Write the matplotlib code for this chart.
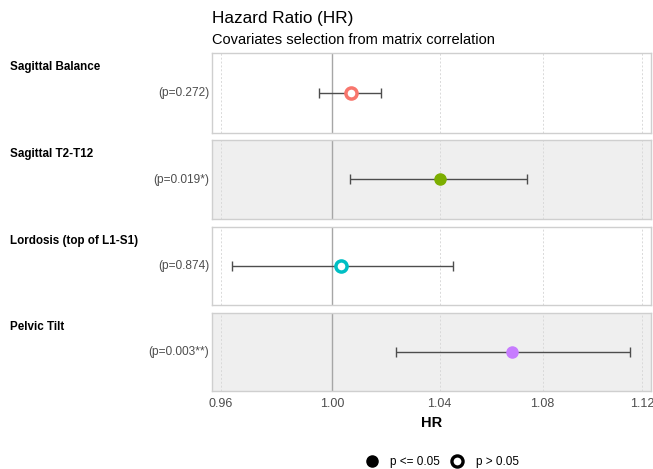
import matplotlib
matplotlib.use("Agg")
import matplotlib.pyplot as plt
from matplotlib.ticker import FixedLocator, FixedFormatter, NullLocator
from matplotlib.lines import Line2D

plt.rcParams['font.family'] = ['Liberation Sans', 'DejaVu Sans']

variables = ["Sagittal Balance", "Sagittal T2-T12", "Lordosis (top of L1-S1)", "Pelvic Tilt"]
hr = [1.007, 1.040, 1.003, 1.068]
ci_low = [0.995, 1.0066, 0.964, 1.0236]
ci_high = [1.018, 1.074, 1.045, 1.115]
p_labels = ["(p=0.272)", "(p=0.019*)", "(p=0.874)", "(p=0.003**)"]
significant = [False, True, False, True]
colors = ["#F8766D", "#7CAE00", "#00BFC4", "#C77CFF"]
x_ticks = [0.96, 1.00, 1.04, 1.08, 1.12]
x_tick_labels = ["0.96", "1.00", "1.04", "1.08", "1.12"]

W, H = 653, 469
fig = plt.figure(figsize=(W / 100, H / 100), dpi=100)

panels_px = [(53, 133), (140, 219), (227, 305), (313, 391)]
left_px, right_px = 212, 651
xlim = (0.9569, 1.1237)

for i, (top, bot) in enumerate(panels_px):
    ax = fig.add_axes([left_px / W, 1 - bot / H, (right_px - left_px) / W, (bot - top) / H])
    ax.set_xscale('log')
    ax.set_xlim(*xlim)
    ax.set_ylim(-1, 1)
    ax.set_facecolor('#EFEFEF' if i % 2 == 1 else 'white')
    for s in ax.spines.values():
        s.set_color('#CFCFCF')
        s.set_linewidth(1.0)
    for t in x_ticks:
        if t != 1.00:
            ax.axvline(t, color='#D9D9D9', lw=0.7, ls=(0, (2, 2)), zorder=1)
    ax.axvline(1.0, color='#A6A6A6', lw=1.0, zorder=2)
    ax.errorbar([hr[i]], [0], xerr=[[hr[i] - ci_low[i]], [ci_high[i] - hr[i]]],
                fmt='none', ecolor='#4D4D4D', elinewidth=1.0, capsize=3.5, capthick=1.0, zorder=3)
    if significant[i]:
        ax.plot([hr[i]], [0], 'o', ms=8, color=colors[i], mec=colors[i], zorder=4)
    else:
        ax.plot([hr[i]], [0], 'o', ms=8, mfc='white', mec=colors[i], mew=2.5, zorder=4)
    ax.yaxis.set_major_locator(NullLocator())
    ax.xaxis.set_major_locator(FixedLocator(x_ticks))
    ax.xaxis.set_minor_locator(NullLocator())
    if i == len(panels_px) - 1:
        ax.xaxis.set_major_formatter(FixedFormatter(x_tick_labels))
        ax.tick_params(axis='x', length=0, labelsize=9, labelcolor='#4D4D4D', pad=5)
        ax.set_xlabel("HR", fontsize=10.5, fontweight='bold', labelpad=4)
    else:
        ax.tick_params(axis='x', length=0, labelbottom=False)
    ax.text(-0.006, 0.5, p_labels[i], transform=ax.transAxes, ha='right', va='center',
            fontsize=8.6, color='#4D4D4D')
    fig.text(10 / W, 1 - (top + 14) / H, variables[i], ha='left', va='center',
             fontsize=8.4, fontweight='bold', color='black')

fig.text(left_px / W, 1 - 18 / H, "Hazard Ratio (HR)", ha='left', va='center', fontsize=12.3)
fig.text(left_px / W, 1 - 40 / H, "Covariates selection from matrix correlation",
         ha='left', va='center', fontsize=10.5)

handles = [
    Line2D([], [], marker='o', ls='none', color='black', ms=8),
    Line2D([], [], marker='o', ls='none', mfc='white', mec='black', mew=2.4, ms=8),
]
fig.legend(handles, ["p <= 0.05", "p > 0.05"], loc='center', ncol=2,
           bbox_to_anchor=(441 / W, 1 - 462 / H), frameon=False, fontsize=8.5,
           handletextpad=0.8, columnspacing=0.7, handlelength=1.5)

fig.savefig("out.png", dpi=100)
